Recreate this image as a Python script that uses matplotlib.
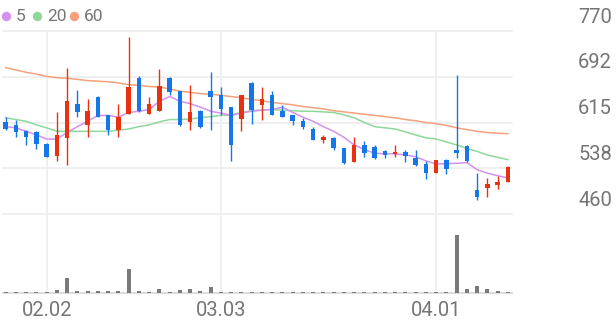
import numpy as np
import matplotlib
matplotlib.use("Agg")
import matplotlib.pyplot as plt

plt.rcParams["font.family"] = ["Roboto", "DejaVu Sans"]

# daily candles, 2026-01-27 .. 2026-04-10
opens = [616, 611, 601, 599, 579, 559, 588, 646, 611, 659,
         627, 603, 630, 691, 630, 635, 691, 668, 616, 635,
         668, 662, 641, 621, 682, 644, 662, 634, 627, 618,
         604, 586, 589, 571, 548, 577, 574, 567, 562, 565,
         555, 545, 529, 552, 569, 576, 501, 504, 509, 515]
highs = [624, 620, 603, 600, 580, 632, 708, 670, 655, 660,
         628, 647, 760, 693, 659, 706, 692, 669, 678, 637,
         700, 675, 641, 662, 683, 675, 669, 645, 627, 623,
         607, 593, 590, 572, 591, 583, 577, 569, 577, 568,
         568, 550, 552, 553, 696, 577, 530, 521, 525, 541]
lows = [603, 591, 577, 570, 557, 549, 543, 625, 590, 624,
        594, 591, 629, 633, 629, 634, 661, 609, 603, 606,
        602, 628, 549, 600, 613, 620, 628, 625, 610, 604,
        585, 581, 568, 545, 548, 556, 554, 555, 557, 548,
        542, 519, 529, 528, 555, 548, 483, 489, 502, 514]
closes = [604, 599, 590, 579, 557, 593, 652, 632, 634, 625,
          603, 624, 675, 634, 647, 676, 667, 610, 632, 608,
          658, 638, 577, 662, 637, 655, 628, 625, 617, 607,
          586, 590, 571, 547, 577, 563, 555, 560, 565, 559,
          543, 529, 552, 536, 564, 549, 489, 511, 515, 540]
volume = [13, 13, 13, 13, 13, 30, 153, 23, 15, 15,
          15, 15, 237, 23, 13, 37, 13, 30, 40, 23,
          57, 13, 13, 13, 13, 13, 12, 12, 12, 12,
          12, 12, 12, 12, 12, 12, 12, 12, 12, 12,
          12, 12, 12, 12, 573, 40, 70, 37, 15, 13]

ma5 = [608, 606, 600, 594, 587, 587, 598, 608, 617, 627,
       627, 624, 632, 634, 637, 651, 659, 651, 647, 641,
       634, 631, 627, 631, 634, 636, 637, 641, 632, 624,
       617, 608, 600, 590, 577, 569, 563, 562, 562, 560,
       557, 550, 545, 545, 546, 547, 535, 529, 525, 521]
ma20 = [623, 620, 617, 611, 606, 600, 600, 600, 600, 600,
        600, 602, 604, 608, 611, 616, 620, 620, 621, 623,
        625, 627, 628, 632, 635, 636, 637, 636, 635, 634,
        634, 633, 632, 628, 623, 615, 608, 606, 604, 599,
        594, 589, 587, 582, 577, 571, 566, 560, 556, 552]
ma60 = [708, 704, 700, 697, 693, 691, 690, 688, 686, 685,
        684, 682, 679, 678, 676, 675, 672, 668, 666, 664,
        663, 661, 659, 657, 654, 652, 649, 647, 645, 642,
        640, 638, 635, 633, 631, 629, 627, 625, 623, 620,
        618, 615, 613, 610, 606, 603, 600, 598, 597, 596]

tick_idx = [4, 21, 42]
tick_labels = ["02.02", "03.03", "04.01"]
price_ticks = [460, 537.5, 615, 692.5, 770]

up_color = "#e8310f"
down_color = "#1576e8"
text_color = "#757575"
grid_color = "#eeeeee"
ma_colors = {"5": "#d690ef", "20": "#8fd89c", "60": "#f7a07c"}

W, H = 616, 321
fig = plt.figure(figsize=(W / 100, H / 100), dpi=100)

left, right = 3, 512
ax = fig.add_axes([left / W, 1 - 214 / H, (right - left) / W, (214 - 31) / H])
ax_v = fig.add_axes([left / W, 1 - 293 / H, (right - left) / W, (293 - 214) / H])

x = np.arange(len(opens))
o = np.array(opens)
c = np.array(closes)
colors = [up_color if cc > oo else down_color for oo, cc in zip(o, c)]

for a in (ax, ax_v):
    a.set_xlim(-0.26, 49.4)
    a.axis("off")
    for t in tick_idx:
        a.axvline(t, color=grid_color, lw=1.2, zorder=0)

ax.set_ylim(price_ticks[0], price_ticks[-1])
for p in price_ticks:
    ax.axhline(p, color=grid_color, lw=1.3, zorder=0, clip_on=False)
    ax.annotate(f"{p:.0f}", xy=(1, p), xycoords=("axes fraction", "data"),
                xytext=(72, 10), textcoords="offset points",
                ha="right", va="center", fontsize=14.5, color=text_color)

# moving averages
ax.plot(x, ma60, color=ma_colors["60"], lw=1.1, zorder=1)
ax.plot(x, ma20, color=ma_colors["20"], lw=1.1, zorder=1)
ax.plot(x, ma5, color=ma_colors["5"], lw=1.1, zorder=1)

# candles
ax.vlines(x, lows, highs, colors=colors, lw=1.0, zorder=2)
body_h = np.maximum(np.abs(c - o), 0.8)
ax.bar(x, body_h, bottom=np.minimum(o, c), width=0.45, color=colors,
       linewidth=0, zorder=3)

# volume
ax_v.set_ylim(0, max(volume) * 1.361)
ax_v.bar(x, volume, width=0.38, color="#7a7a7a", linewidth=0, zorder=2)
ax_v.axhline(0, color="#dddddd", lw=1.5, zorder=1, clip_on=False)
for t, lab in zip(tick_idx, tick_labels):
    ax_v.annotate(lab, xy=(t, 0), xycoords="data", xytext=(0, -12.3),
                  textcoords="offset points", ha="center", va="center",
                  fontsize=14.5, color=text_color)

# legend
ax_l = fig.add_axes([0, 0, 1, 1])
ax_l.set_xlim(0, W)
ax_l.set_ylim(H, 0)
ax_l.axis("off")
ax_l.patch.set_alpha(0)
for (name, col), dx in zip(ma_colors.items(), [6, 37, 74]):
    ax_l.scatter([dx], [16], s=46, color=col, linewidths=0)
    ax_l.text(dx + 10, 16.5, name, ha="left", va="center", fontsize=12.5,
              color=text_color)

fig.savefig("out.png", dpi=100)
